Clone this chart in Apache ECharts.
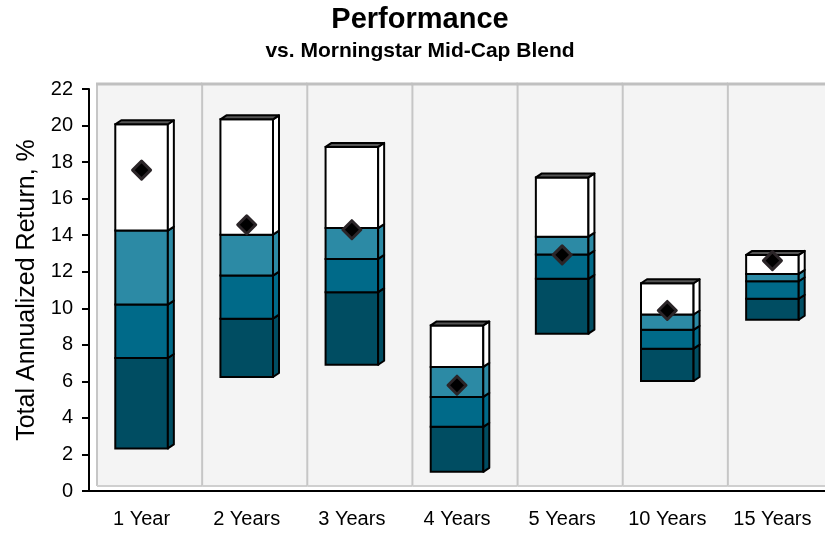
<!DOCTYPE html>
<html>
<head>
<meta charset="utf-8">
<script src="https://cdn.jsdelivr.net/npm/echarts@6/dist/echarts.min.js"></script>
<style>html,body{margin:0;padding:0;background:#fff}#c{width:825px;height:534px}</style>
</head>
<body>
<div id="c"></div>
<script>
const categories = ['1 Year','2 Years','3 Years','4 Years','5 Years','10 Years','15 Years'];
const p5   = [2.33, 6.24, 6.91, 1.05, 8.61, 6.02, 9.37];
const p25  = [7.28, 9.43, 10.88, 3.51, 11.61, 7.79, 10.52];
const p50  = [10.2, 11.79, 12.70, 5.15, 12.94, 8.82, 11.48];
const p75  = [14.25, 14.03, 14.39, 6.79, 13.92, 9.66, 11.88];
const p95  = [20.07, 20.34, 18.83, 9.06, 17.16, 11.37, 12.92];
const fund = [17.56, 14.57, 14.30, 5.79, 12.92, 9.88, 12.61];
const yTicks = [0, 2, 4, 6, 8, 10, 12, 14, 16, 18, 20, 22];

const FONT = "'Liberation Sans', Arial, sans-serif";
const segColors = ['#004d62', '#006a89', '#2c8aa5', '#ffffff'];
const yMin = yTicks[0], yMax = yTicks[yTicks.length - 1];
const BAR_DX = 6, BAR_DY = 4, WALL_DX = 8, WALL_DY = 5;

const barData = categories.map((c, i) => [i, p5[i], p25[i], p50[i], p75[i], p95[i]]);
const wallData = categories.map((c, i) => [i, yMin, yMax]);
const fundData = categories.map((c, i) => [i, fund[i]]);

const chart = echarts.init(document.getElementById('c'), null, {renderer: 'canvas'});
chart.setOption({
  backgroundColor: '#ffffff',
  animation: false,
  title: [
    {text: 'Performance', left: 420, top: 5, textAlign: 'center', padding: 0,
     textStyle: {fontFamily: FONT, fontWeight: 'bold', fontSize: 29, color: '#000'}},
    {text: 'vs. Morningstar Mid-Cap Blend', left: 420, top: 41, textAlign: 'center', padding: 0,
     textStyle: {fontFamily: FONT, fontWeight: 'bold', fontSize: 21, color: '#000'}}
  ],
  grid: {left: 89, right: -1, top: 89, bottom: 43, containLabel: false},
  xAxis: {
    type: 'category', data: categories, boundaryGap: true,
    axisLine: {lineStyle: {color: '#000', width: 2}},
    axisTick: {alignWithLabel: true, length: 6, lineStyle: {color: '#000', width: 2}},
    axisLabel: {color: '#000', fontFamily: FONT, fontSize: 20, margin: 18},
    splitLine: {show: false}, z: 10
  },
  yAxis: {
    type: 'value', min: yMin, max: yMax, interval: 2,
    name: 'Total Annualized Return, %', nameLocation: 'middle', nameGap: 46, nameRotate: 90,
    nameTextStyle: {color: '#000', fontFamily: FONT, fontSize: 25},
    axisLine: {show: true, lineStyle: {color: '#000', width: 2}},
    axisTick: {show: true, length: 7, lineStyle: {color: '#000', width: 2}},
    axisLabel: {color: '#000', fontFamily: FONT, fontSize: 20, margin: 16},
    splitLine: {show: false}, z: 10
  },
  series: [
    {
      type: 'custom', name: 'wall', data: wallData, z: 0, silent: true, clip: false,
      encode: {x: 0, y: [1, 2]},
      renderItem: function (params, api) {
        const i = api.value(0);
        const cw = api.size([1, 0])[0];
        const cx = api.coord([i, api.value(1)])[0];
        const yb = api.coord([i, api.value(1)])[1] - WALL_DY;
        const yt = api.coord([i, api.value(2)])[1] - WALL_DY;
        const xl = cx - cw / 2 + WALL_DX, xr = cx + cw / 2 + WALL_DX;
        return {type: 'group', children: [
          {type: 'rect', shape: {x: xl, y: yt, width: xr - xl, height: yb - yt}, style: {fill: '#f4f4f4'}},
          {type: 'line', shape: {x1: xl, y1: yt, x2: xl, y2: yb}, style: {stroke: '#c6c6c6', lineWidth: 2}},
          {type: 'line', shape: {x1: xl - 1, y1: yt, x2: xr, y2: yt}, style: {stroke: '#c0c0c0', lineWidth: 3}},
          {type: 'line', shape: {x1: xl, y1: yb, x2: xr, y2: yb}, style: {stroke: '#cfcfcf', lineWidth: 2}}
        ]};
      }
    },
    {
      type: 'custom', name: 'range', data: barData, z: 2, clip: false,
      encode: {x: 0, y: [1, 2, 3, 4, 5]},
      renderItem: function (params, api) {
        const i = api.value(0);
        const cw = api.size([1, 0])[0];
        const w = cw * 0.5;
        const cx = api.coord([i, api.value(1)])[0];
        const x0 = cx - w / 2, x1 = cx + w / 2;
        const ys = [1, 2, 3, 4, 5].map(k => api.coord([i, api.value(k)])[1]);
        const children = [];
        for (let k = 0; k < 4; k++) {
          const yb = ys[k], yt = ys[k + 1];
          const col = segColors[k];
          children.push({type: 'rect', shape: {x: x0, y: yt, width: w, height: yb - yt},
            style: {fill: col, stroke: '#000', lineWidth: 2}});
          children.push({type: 'polygon', shape: {points: [[x1, yt], [x1 + BAR_DX, yt - BAR_DY], [x1 + BAR_DX, yb - BAR_DY], [x1, yb]]},
            style: {fill: col, stroke: '#000', lineWidth: 2, lineJoin: 'round'}});
        }
        const top = ys[4];
        children.push({type: 'polygon', shape: {points: [[x0, top], [x0 + BAR_DX, top - BAR_DY], [x1 + BAR_DX, top - BAR_DY], [x1, top]]},
          style: {fill: '#555555', stroke: '#000', lineWidth: 2, lineJoin: 'round'}});
        return {type: 'group', children: children};
      }
    },
    {
      type: 'scatter', name: 'Fund', data: fundData, z: 5,
      symbol: 'diamond', symbolSize: 18,
      itemStyle: {color: '#000', borderColor: '#2b2528', borderWidth: 3, borderJoin: 'round', opacity: 1}
    }
  ]
});
</script>
</body>
</html>
